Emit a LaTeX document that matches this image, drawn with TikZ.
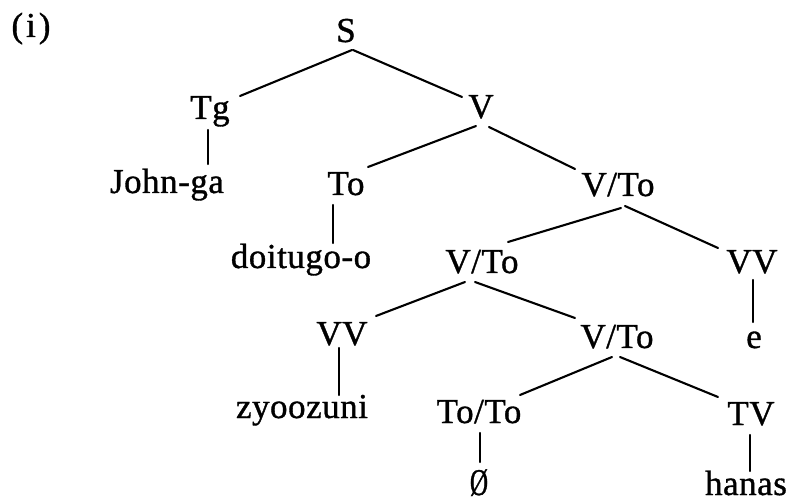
\documentclass[tikz,border=0pt]{standalone}
\usepackage{graphicx}
\usepackage{fontspec}
\setmainfont[LetterSpace=1.5,FakeBold=1]{Liberation Serif}
\newcommand{\nullsym}{\scalebox{0.72}[1.08]{Ø}}
\begin{document}
\begin{tikzpicture}[x=1pt,y=-1pt,
  lab/.style={anchor=base,inner sep=0pt,font=\fontsize{35}{40}\selectfont},
  edge/.style={line width=2.1pt,line cap=round}]
\useasboundingbox (0,0) rectangle (795,502);
\node[lab] (num) at (31,37) {(\kern3pt i\kern3pt)};
\node[lab] (S) at (346,42) {S};
\node[lab] (Tg) at (210,119) {Tg};
\node[lab] (V) at (481,118) {V};
\node[lab] (John) at (167,193) {John-ga};
\node[lab] (To) at (346,195) {To};
\node[lab] (VTa) at (618,196) {V/To};
\node[lab] (doi) at (301,268) {doitugo-o};
\node[lab] (VTb) at (482,273) {V/To};
\node[lab] (VVr) at (752,273) {VV};
\node[lab] (VVl) at (342,345) {VV};
\node[lab] (VTc) at (617,348) {V/To};
\node[lab] (e) at (754,348) {e};
\node[lab] (zyo) at (302,418) {zyoozuni};
\node[lab] (ToTo) at (479,423) {To/To};
\node[lab] (TV) at (751,425) {TV};
\node[lab] (empty) at (479,495) {\nullsym};
\node[lab] (hanas) at (746,495) {hanas};
\draw[edge] ([shift={(6,8)}]S.base) -- ([shift={(30,-23)}]Tg.base);
\draw[edge] ([shift={(7,8)}]S.base) -- ([shift={(-19,-21)}]V.base);
\draw[edge] ([shift={(-2,11)}]Tg.base) -- ([shift={(41,-29)}]John.base);
\draw[edge] ([shift={(-5,8)}]V.base) -- ([shift={(22,-28)}]To.base);
\draw[edge] ([shift={(8,9)}]V.base) -- ([shift={(-43,-27)}]VTa.base);
\draw[edge] ([shift={(-13,10)}]To.base) -- ([shift={(32,-25)}]doi.base);
\draw[edge] ([shift={(3,12)}]VTa.base) -- ([shift={(26,-31)}]VTb.base);
\draw[edge] ([shift={(7,10)}]VTa.base) -- ([shift={(-34,-25)}]VVr.base);
\draw[edge] ([shift={(-17,9)}]VTb.base) -- ([shift={(34,-29)}]VVl.base);
\draw[edge] ([shift={(-7,9)}]VTb.base) -- ([shift={(-42,-30)}]VTc.base);
\draw[edge] ([shift={(1,7)}]VVr.base) -- ([shift={(-1,-26)}]e.base);
\draw[edge] ([shift={(-3,3)}]VVl.base) -- ([shift={(37,-23)}]zyo.base);
\draw[edge] ([shift={(-5,9)}]VTc.base) -- ([shift={(41,-28)}]ToTo.base);
\draw[edge] ([shift={(3,9)}]VTc.base) -- ([shift={(-33,-28)}]TV.base);
\draw[edge] ([shift={(1,10)}]ToTo.base) -- ([shift={(1,-33)}]empty.base);
\draw[edge] ([shift={(-1,10)}]TV.base) -- ([shift={(4,-24)}]hanas.base);
\end{tikzpicture}
\end{document}
